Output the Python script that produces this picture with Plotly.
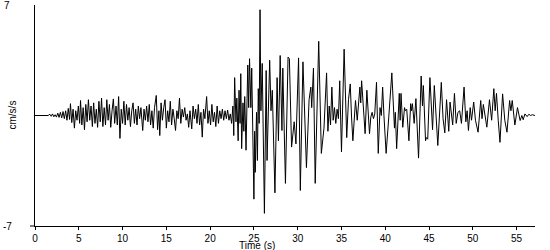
import plotly.graph_objects as go

# ---- data: turning points of the accelerogram (time in s, acceleration in cm/s/s)
weak_t = [0, 1.5, 1.7, 1.85, 2.0, 2.15, 2.3, 2.45, 2.6, 2.75,
          2.9, 3.05, 3.2, 3.35, 3.5, 3.65, 3.8, 3.95, 4.05, 4.2,
          4.35, 4.5, 4.65, 4.8, 4.95, 5.1, 5.2, 5.35, 5.5, 5.65,
          5.8, 5.95, 6.1, 6.25, 6.4, 6.55, 6.7, 6.85, 7.0, 7.15,
          7.3, 7.45, 7.6, 7.75, 7.9, 8.05, 8.2, 8.35, 8.5, 8.65,
          8.8, 8.95, 9.1, 9.25, 9.4, 9.55, 9.7, 9.85, 10.0, 10.15,
          10.3, 10.45, 10.6, 10.75, 10.9, 11.05, 11.2, 11.35, 11.5, 11.65,
          11.8, 11.95, 12.1, 12.3, 12.45, 12.6, 12.75, 12.9, 13.05, 13.2,
          13.35, 13.5, 13.65, 13.85, 14.0, 14.15, 14.25, 14.4, 14.55, 14.7,
          14.85, 15.0, 15.15, 15.3, 15.45, 15.6, 15.75, 15.9, 16.05, 16.2,
          16.35, 16.5, 16.65, 16.8, 16.95, 17.1, 17.25, 17.4, 17.55, 17.7,
          17.9, 18.05, 18.2, 18.35, 18.5, 18.65, 18.8, 18.95, 19.1, 19.25,
          19.4, 19.6, 19.75, 19.9, 20.05, 20.2, 20.35, 20.5, 20.65, 20.8,
          20.95, 21.1, 21.25, 21.4, 21.55, 21.7, 21.85, 22.0, 22.15, 22.3,
          22.45, 22.6]
weak_a = [0, 0, 0.08, -0.05, 0.1, -0.08, 0.05, -0.1, 0.15, -0.12,
          0.2, -0.15, 0.25, -0.2, 0.3, -0.3, 0.45, -0.25, 0.75, -0.45,
          0.4, -0.8, 0.3, -0.3, 0.6, -0.5, 0.95, -0.6, 0.5, -0.9,
          0.7, -0.4, 1.0, -0.3, 0.6, -0.7, 0.8, -0.5, 0.4, -0.75,
          0.9, -0.4, 1.1, -0.7, 0.5, -0.6, 1.0, -0.3, 0.7, -0.75,
          0.3, 1.05, -0.5, 0.6, -0.6, 1.2, -1.45, 0.4, -0.5, 0.9,
          -0.6, 0.7, -0.3, 0.5, -0.7, 0.3, 0.8, -0.5, 0.4, -0.6,
          0.6, -0.2, 0.5, -0.95, 0.4, -0.3, 0.6, -0.4, 0.7, -0.6,
          0.3, -0.8, 0.5, 1.27, -0.9, 0.3, -1.27, 0.8, -0.3, 0.5,
          1.0, -0.8, 0.3, -0.4, 0.9, -0.6, 0.4, -0.2, -0.95, 0.3,
          -0.2, 1.1, -0.5, 0.4, -0.1, 0.5, -0.3, 0.1, -0.75, 0.3,
          -0.85, 0.6, -0.2, 0.4, -0.5, 0.7, -0.6, 0.2, -1.37, 0.4,
          -0.2, 1.2, -0.5, 0.3, -0.6, 0.7, -0.4, 0.2, -0.7, 0.6,
          -0.5, 0.3, -0.2, 0.4, -0.3, 0.3, -0.2, 0.35, -0.3, 0.1,
          -0.5, 0.6]

strong_t = [22.7, 22.8, 22.95, 23.05, 23.2, 23.3, 23.42, 23.5, 23.6, 23.75,
            23.85, 23.95, 24.1, 24.3, 24.4, 24.5, 24.65, 24.75, 25.0, 25.08,
            25.15, 25.3, 25.4, 25.5, 25.6, 25.7, 25.8, 25.95, 26.2, 26.4,
            26.5, 26.8, 26.95, 27.1, 27.4, 27.65, 27.8, 28.0, 28.2, 28.3,
            28.6, 28.9, 29.05, 29.3, 29.6, 29.8, 30.1, 30.3, 30.6, 31.0,
            31.3, 31.5, 31.6, 31.8, 32.0, 32.4, 32.7, 33.0, 33.3, 33.45,
            33.6, 33.75, 33.9, 34.05, 34.2, 34.35, 34.5, 34.65, 34.8, 35.0,
            35.3, 35.6, 35.8, 36.0, 36.15, 36.3, 36.6, 36.8, 37.1, 37.2,
            37.3, 37.7, 37.9, 38.2, 38.35, 38.5, 38.65, 38.8, 39.0, 39.2,
            39.4, 39.55, 39.7, 39.85, 40.1]
strong_a = [-1.27, 2.4, -0.4, 1.1, -1.6, 1.6, -0.5, 2.65, -2.1, 0.8,
            -1.0, 1.2, -2.2, 3.2, 0.5, 3.6, 0.5, 3.0, -5.3, -1.0,
            -3.6, 0.2, -2.85, 1.7, -0.5, 6.7, 0.3, 3.3, -6.2, 2.85,
            -2.85, 3.5, 0.3, 1.6, -4.9, 2.4, -1.6, 3.8, -0.95, 3.0,
            -4.3, 3.7, 3.6, -2.0, -0.4, -1.8, 3.65, -4.75, 3.4, -3.3,
            1.0, 1.8, 0.5, 3.0, -4.3, 4.7, -2.4, -0.8, 2.7, -1.0,
            0.6, -0.6, 1.8, -0.3, 0.5, -0.5, 0.4, -0.2, 2.2, -2.3,
            4.2, -1.4, 1.0, 2.0, -0.1, -1.6, 0.95, -0.3, 1.8, 0.8,
            2.2, -1.15, 1.6, -1.15, -0.1, 0.2, -0.2, 0.1, 2.1, -2.4,
            0.5, 0.0, 1.8, 0.0, -2.4]

coda_t = [40.4, 40.75, 41.05, 41.15, 41.3, 41.6, 41.7, 41.8, 42.0, 42.2,
          42.3, 42.45, 42.7, 42.9, 43.0, 43.1, 43.3, 43.5, 43.8, 44.1,
          44.25, 44.35, 44.6, 44.7, 44.85, 45.1, 45.4, 45.6, 46.0, 46.4,
          46.6, 46.8, 47.0, 47.25, 47.4, 47.7, 47.9, 48.1, 48.3, 48.5,
          48.7, 49.0, 49.2, 49.35, 49.5, 49.7, 49.85, 50.1, 50.3, 50.6,
          50.9, 51.05, 51.2, 51.6, 51.9, 52.15, 52.4, 52.55, 52.7, 52.9,
          53.1, 53.4, 53.65, 53.9, 54.2, 54.35, 54.5, 54.8, 55.1, 55.4,
          55.6, 55.75, 55.95, 56.2, 56.4, 56.6, 56.8, 57.1]
coda_a = [-0.1, 2.7, -0.8, 0.2, -2.1, 1.4, -0.3, 1.4, -0.75, 0.5,
          0.3, 0.4, -1.6, 0.75, 0.3, 0.75, -0.5, 1.07, -2.7, 2.5,
          0.6, 1.9, -1.6, -1.4, -1.5, 2.4, -0.9, 1.9, -1.9, 2.1,
          -0.2, -1.1, 1.0, -1.0, 0.85, -0.6, 1.4, -0.5, 0.2, 0.3,
          -0.5, 1.8, -0.4, 0.3, -0.95, 0.5, -0.3, 0.85, -0.3, -1.06,
          0.95, -0.2, 0.7, -0.74, 1.0, -0.3, 1.7, 0.3, 1.4, -0.3,
          -1.7, 1.37, -0.3, -1.06, 0.95, 0.3, 0.95, -0.6, 0.5, -0.32,
          0.0, -0.27, 0.1, -0.07, 0.08, 0.0, 0.05, 0.0]

x_ticks = [0, 5, 10, 15, 20, 25, 30, 35, 40, 45, 50, 55]
y_limits = [-7, 7]
x_limits = [0, 57.1]

time_s = weak_t + strong_t + coda_t
accel = weak_a + strong_a + coda_a

FONT = "Liberation Sans, Arial, sans-serif"

fig = go.Figure()
fig.add_trace(go.Scatter(x=time_s, y=accel, mode="lines",
                         line=dict(color="black", width=1, simplify=False),
                         hoverinfo="skip", showlegend=False))

fig.update_layout(
    width=550, height=250,
    margin=dict(l=35, r=15, t=5, b=24),
    paper_bgcolor="white", plot_bgcolor="white",
    font=dict(family=FONT, size=10, color="black"),
    xaxis=dict(range=x_limits, tickvals=x_ticks, ticktext=[str(v) for v in x_ticks],
               ticks="outside", ticklen=3, tickcolor="black", tickwidth=1,
               showline=True, linecolor="black", linewidth=1,
               showgrid=False, zeroline=False, tickfont=dict(size=10)),
    yaxis=dict(range=y_limits, showticklabels=False, ticks="",
               showline=True, linecolor="black", linewidth=1,
               showgrid=False, zeroline=False),
    annotations=[
        dict(text=str(y_limits[1]), x=-0.056, xref="paper", y=y_limits[1], yref="y",
             showarrow=False, xanchor="center", yanchor="middle", font=dict(size=10)),
        dict(text=str(y_limits[0]), x=-0.056, xref="paper", y=y_limits[0], yref="y",
             showarrow=False, xanchor="center", yanchor="middle", font=dict(size=10)),
        dict(text="cm/s/s", x=-0.046, xref="paper", y=0, yref="y", textangle=-90,
             showarrow=False, xanchor="center", yanchor="middle", font=dict(size=10)),
        dict(text="Time (s)", x=25.3, xref="x", y=0, yref="paper", yshift=-19,
             showarrow=False, xanchor="center", yanchor="middle", font=dict(size=10)),
    ],
    shapes=[
        dict(type="line", xref="paper", yref="paper", x0=-0.01, x1=0, y0=0, y1=0,
             line=dict(color="black", width=1)),
    ],
)

fig.write_html("out.html")
